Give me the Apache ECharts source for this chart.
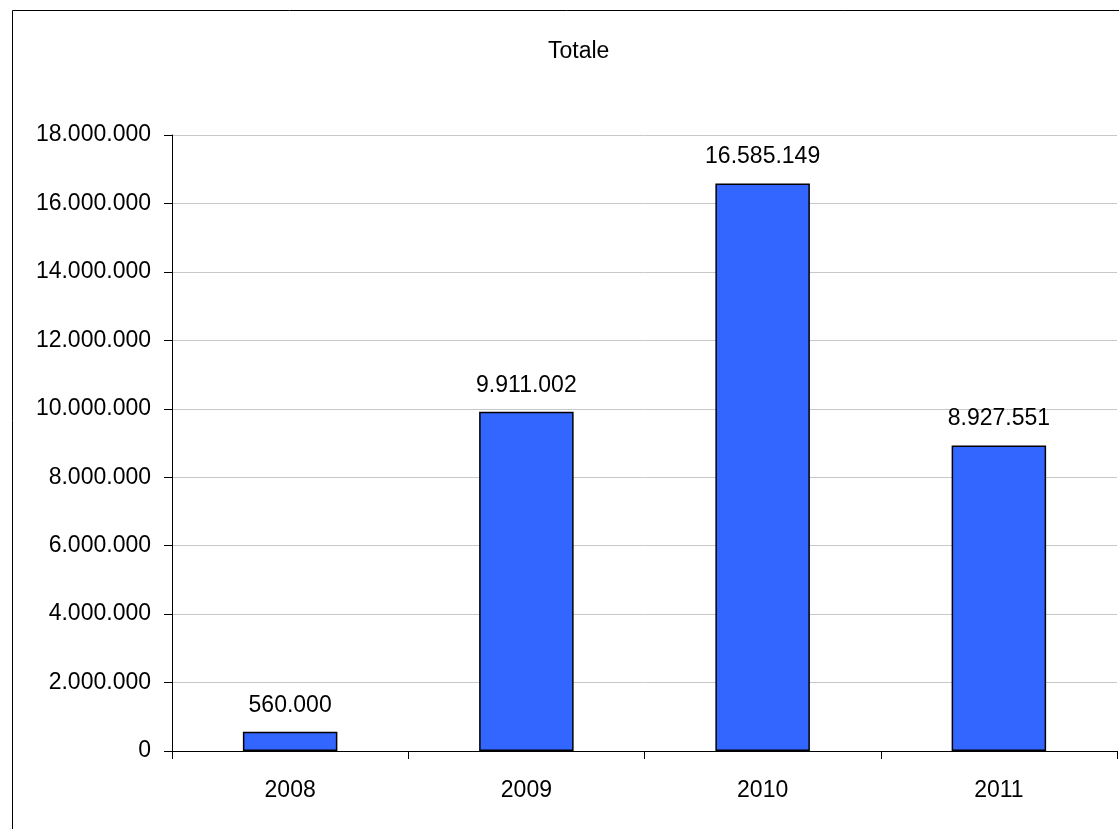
<!DOCTYPE html>
<html>
<head>
<meta charset="utf-8">
<script src="https://cdn.jsdelivr.net/npm/echarts@6/dist/echarts.min.js"></script>
<style>
  html, body { margin: 0; padding: 0; background: #fff; }
  #chart { width: 1119px; height: 829px; }
</style>
</head>
<body>
<div id="chart"></div>
<script>
// Yearly totals
const years = ['2008', '2009', '2010', '2011'];
const totals = [560000, 9911002, 16585149, 8927551];
const yMax = 18000000;
const yStep = 2000000;

// Thousands separated with dots (it-IT style)
function fmt(v) {
  return String(Math.round(v)).replace(/\B(?=(\d{3})+(?!\d))/g, '.');
}

const FONT = 'Liberation Sans, Arial, sans-serif';
const chart = echarts.init(document.getElementById('chart'));

chart.setOption({
  animation: false,
  backgroundColor: '#ffffff',
  title: {
    text: 'Totale',
    left: 543,
    top: 35,
    textStyle: { fontFamily: FONT, fontSize: 23, fontWeight: 'normal', color: '#000' }
  },
  graphic: [{
    type: 'rect',
    shape: { x: 12.5, y: 10.5, width: 1300, height: 1000 },
    style: { fill: 'none', stroke: '#000', lineWidth: 1 },
    z: -1
  }],
  grid: { left: 172, right: 2, top: 135, bottom: 78, containLabel: false },
  xAxis: {
    type: 'category',
    data: years,
    axisLine: { lineStyle: { color: '#000', width: 1 } },
    axisTick: { show: true, length: 8, lineStyle: { color: '#000' } },
    axisLabel: { margin: 28, fontFamily: FONT, fontSize: 23, color: '#000' }
  },
  yAxis: {
    type: 'value',
    min: 0,
    max: yMax,
    interval: yStep,
    axisLine: { show: true, lineStyle: { color: '#000', width: 1 } },
    axisTick: { show: true, length: 8, lineStyle: { color: '#000' } },
    axisLabel: { margin: 21, fontFamily: FONT, fontSize: 23, color: '#000', formatter: fmt },
    splitLine: { show: true, lineStyle: { color: '#c8c8c8', width: 1 } }
  },
  series: [{
    type: 'bar',
    data: totals,
    barWidth: '40%',
    itemStyle: { color: '#3366ff', borderColor: '#000', borderWidth: 1.5 },
    label: {
      show: true,
      position: 'top',
      distance: 15,
      fontFamily: FONT,
      fontSize: 23,
      color: '#000',
      formatter: p => fmt(p.value)
    }
  }]
});
</script>
</body>
</html>
